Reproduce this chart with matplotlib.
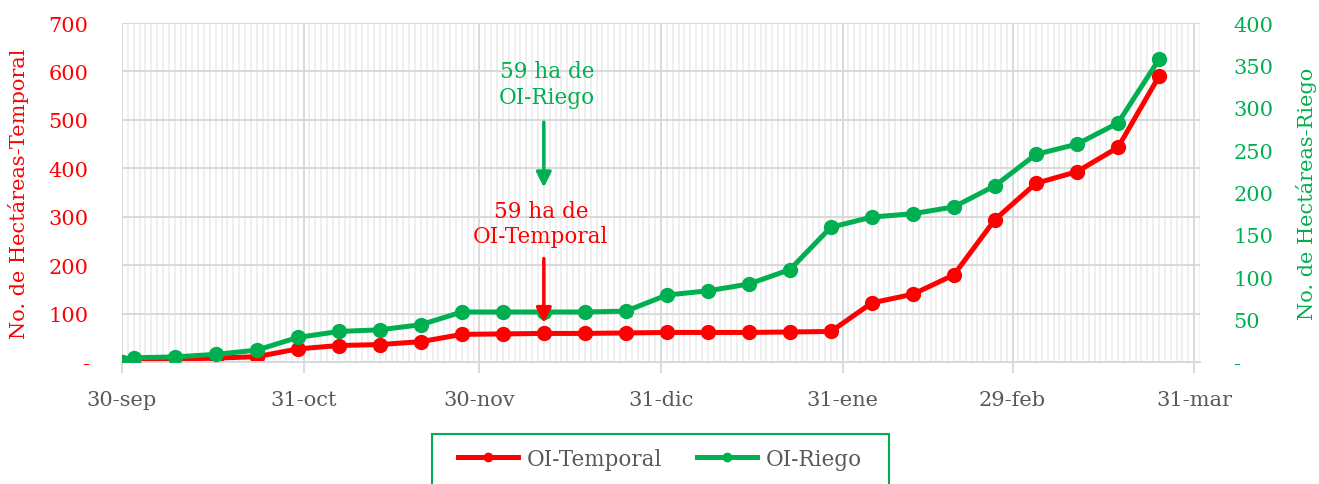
import numpy as np
import pandas as pd
import matplotlib
matplotlib.use("Agg")
import matplotlib.pyplot as plt
import matplotlib.dates as mdates
from matplotlib.patches import Rectangle
from matplotlib.ticker import MultipleLocator, FuncFormatter

plt.rcParams['font.family'] = ['DejaVu Serif']

# Fechas: 30-sep y luego semanal desde 2-oct hasta 25-mar
dates = [pd.Timestamp("2023-09-30")] + list(pd.date_range("2023-10-02", "2024-03-25", freq="7D"))

temporal = [0, 3, 6, 8, 11, 27, 34, 36, 42, 57, 58, 59, 59, 60, 61, 61, 61, 62,
            63, 122, 140, 180, 294, 369, 393, 443, 590]
riego = [0, 5, 6, 9, 14, 29, 36, 38, 44, 59, 59, 59, 59, 60, 79, 84, 92, 109,
         159, 171, 175, 183, 208, 245, 257, 282, 357]

tick_dates = ["2023-09-30", "2023-10-31", "2023-11-30", "2023-12-31",
              "2024-01-31", "2024-02-29", "2024-03-31"]
tick_labels = ["30-sep", "31-oct", "30-nov", "31-dic", "31-ene", "29-feb", "31-mar"]

RED = "#ff0000"
GREEN = "#00b050"
GRAY = "#595959"
GRID = "#d9d9d9"

fig = plt.figure(figsize=(13.19, 4.85), dpi=100)
W, H = 1319, 485
ax = fig.add_axes([122 / W, 1 - 363 / H, (1200 - 122) / W, 339 / H])
ax2 = ax.twinx()

# rejilla
ax.xaxis.set_minor_locator(mdates.DayLocator())
ax.grid(which="minor", axis="x", color="#ececec", lw=1.2)
ax.grid(which="major", axis="both", color=GRID, lw=1.4)
ax.set_axisbelow(True)

ax.plot(dates, temporal, color=RED, lw=3.6, marker="o", ms=10, label="OI-Temporal", zorder=3)
ax2.plot(dates, riego, color=GREEN, lw=3.6, marker="o", ms=10, label="OI-Riego", zorder=3)

ax.set_xlim(pd.Timestamp("2023-09-30"), pd.Timestamp("2024-04-01"))
ax.set_ylim(0, 700)
ax2.set_ylim(0, 400)
ax.yaxis.set_major_locator(MultipleLocator(100))
ax2.yaxis.set_major_locator(MultipleLocator(50))

dash = FuncFormatter(lambda v, p: "-" if v == 0 else f"{v:.0f}")
ax.yaxis.set_major_formatter(dash)
ax2.yaxis.set_major_formatter(dash)

ax.set_xticks([pd.Timestamp(d) for d in tick_dates])
ax.set_xticklabels(tick_labels)
ax.tick_params(axis="x", which="major", length=8, color=GRID, width=1.4,
               labelsize=15, labelcolor=GRAY, pad=12)
ax.tick_params(axis="x", which="minor", length=0)
ax.tick_params(axis="y", length=0, labelsize=15, labelcolor=RED, pad=24)
ax2.tick_params(axis="y", length=0, labelsize=15, labelcolor=GREEN, pad=24)

for a in (ax, ax2):
    for s in ("top", "right", "left"):
        a.spines[s].set_visible(False)
    a.spines["bottom"].set_color(GRID)
    a.spines["bottom"].set_linewidth(1.4)

ax.set_ylabel("No. de Hectáreas-Temporal", color=RED, fontsize=15)
ax.yaxis.set_label_coords(-0.0863, 0.5)
ax2.set_ylabel("No. de Hectáreas-Riego", color=GREEN, fontsize=15)
ax2.yaxis.set_label_coords(1.089, 0.5)

# anotaciones (en el eje derecho para quedar encima de las lineas)
x_ann = pd.Timestamp("2023-12-11")
head = "-|>,head_width=0.45,head_length=0.9"
ax2.annotate("", xy=(x_ann, 206), xytext=(x_ann, 283),
             arrowprops=dict(arrowstyle=head, color=GREEN, lw=2.5, shrinkA=0, shrinkB=0), zorder=5)
ax2.text(pd.Timestamp("2023-12-11 12:00"), 328, "59 ha de\nOI-Riego", color=GREEN,
         fontsize=15.5, ha="center", va="center", linespacing=1.2)
ax2.annotate("", xy=(x_ann, 46), xytext=(x_ann, 122),
             arrowprops=dict(arrowstyle=head, color=RED, lw=2.5, shrinkA=0, shrinkB=0), zorder=5)
ax2.text(pd.Timestamp("2023-12-10 12:00"), 163.5, "59 ha de\nOI-Temporal", color=RED,
         fontsize=15.5, ha="center", va="center", linespacing=1.2)

# leyenda
fig.patches.append(Rectangle((432 / W, -0.02), (889 - 432) / W, (H - 435) / H + 0.02,
                             transform=fig.transFigure, fill=False, edgecolor=GREEN, lw=1.5))
h1, l1 = ax.get_legend_handles_labels()
h2, l2 = ax2.get_legend_handles_labels()
leg = fig.legend(h1 + h2, l1 + l2, loc="center", bbox_to_anchor=(660 / W, 1 - 460 / H),
                 ncol=2, frameon=False, fontsize=15.5, handlelength=2.8, columnspacing=1.6,
                 handletextpad=0.4, markerscale=0.6)
for t in leg.get_texts():
    t.set_color(GRAY)

fig.savefig("out.png", dpi=100)
